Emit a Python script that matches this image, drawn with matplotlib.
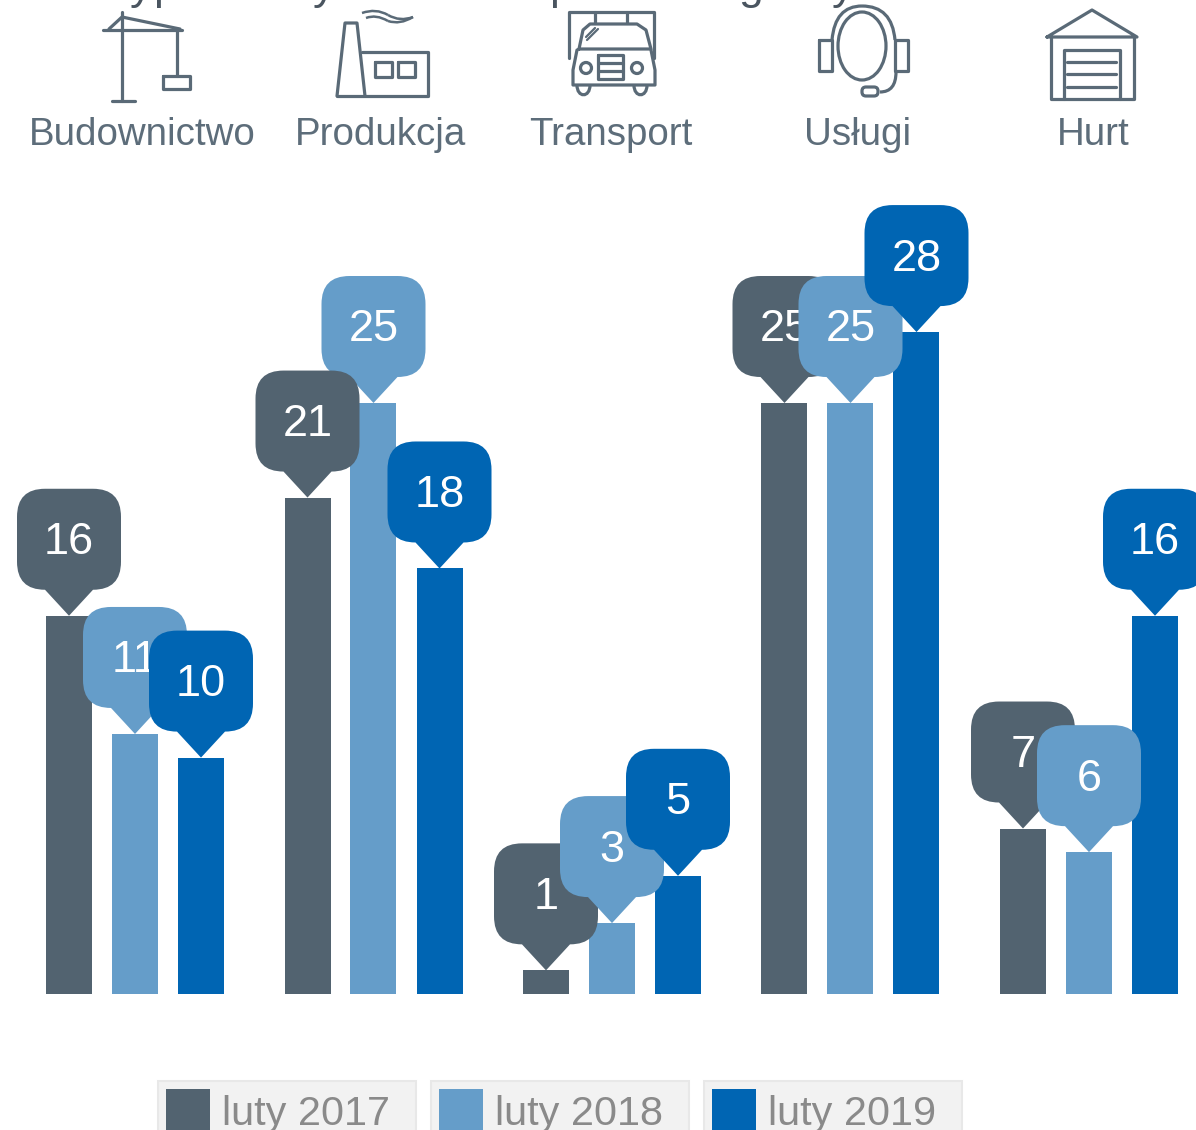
import numpy as np
import matplotlib
matplotlib.use('Agg')
import matplotlib.pyplot as plt
from matplotlib.patches import PathPatch, Rectangle, Circle, Ellipse, FancyBboxPatch
from matplotlib.path import Path
from matplotlib.transforms import Affine2D

# Chart data
categories = ['Budownictwo', 'Produkcja', 'Transport', 'Usługi', 'Hurt']
series_names = ['luty 2017', 'luty 2018', 'luty 2019']
values_2017 = [16, 21, 1, 25, 7]
values_2018 = [11, 25, 3, 25, 6]
values_2019 = [10, 18, 5, 28, 16]

DARK = '#526370'
MID = '#659dc9'
BLUE = '#0065b3'
ICON = '#5a6a77'
LABEL = '#5d6d7a'
colors = [DARK, MID, BLUE]

W, H = 1196, 1130
GROUP_STEP = 238.5   # px between groups
UNIT = 23.64         # px per value unit
BASE_Y = 994         # px of the zero line
FIRST_X = 135        # px of first group centre

plt.rcParams['font.family'] = ['Liberation Sans', 'DejaVu Sans']

fig = plt.figure(figsize=(W / 100, H / 100), dpi=100)

# chart axes, scaled so the data lands where the picture has it
ax = fig.add_axes([0, 0, 1, 1])
ax.set_xlim(-FIRST_X / GROUP_STEP, (W - FIRST_X) / GROUP_STEP)
ax.set_ylim(-(H - BASE_Y) / UNIT, BASE_Y / UNIT)
ax.axis('off')

# overlay in image pixels for the icons and the legend
px = fig.add_axes([0, 0, 1, 1], facecolor='none')
px.set_xlim(0, W)
px.set_ylim(H, 0)
px.axis('off')


def bubble_path():
    """Speech bubble with its tip at (0, 0), in pixels, y up"""
    hw, bot, top, r = 52, 26, 127, 28
    verts = [(0, 0), (hw - r, bot),
             (hw, bot), (hw, bot + r),
             (hw, top - r),
             (hw, top), (hw - r, top),
             (-hw + r, top),
             (-hw, top), (-hw, top - r),
             (-hw, bot + r),
             (-hw, bot), (-hw + r, bot),
             (0, 0)]
    codes = [Path.MOVETO, Path.LINETO,
             Path.CURVE3, Path.CURVE3,
             Path.LINETO,
             Path.CURVE3, Path.CURVE3,
             Path.LINETO,
             Path.CURVE3, Path.CURVE3,
             Path.LINETO,
             Path.CURVE3, Path.CURVE3,
             Path.CLOSEPOLY]
    return Path(verts, codes)


series = [values_2017, values_2018, values_2019]
x_pos = np.arange(len(categories))
offset = 66 / GROUP_STEP
bar_w = 46 / GROUP_STEP

for s, vals in enumerate(series):
    ax.bar(x_pos + (s - 1) * offset, vals, width=bar_w, color=colors[s], zorder=2)

bubble = bubble_path()
z = 3
for g in range(len(categories)):
    # the 21 label sits on top of the 25 one in the source
    order = [1, 0, 2] if categories[g] == 'Produkcja' else [0, 1, 2]
    for s in order:
        v = series[s][g]
        bx = g + (s - 1) * offset
        tip = ax.transData.transform((bx, v))
        tr = Affine2D().translate(*tip)
        ax.add_patch(PathPatch(bubble, facecolor=colors[s], edgecolor='none',
                               transform=tr, zorder=z, clip_on=False))
        ax.annotate(str(v), (bx, v), xytext=(0, 73 * 0.72), textcoords='offset points',
                    ha='center', va='center', color='white', fontsize=32.5, zorder=z + 0.5)
        z += 1

# category labels
label_x = [142, 381, 611, 858, 1093]
for name, lx in zip(categories, label_x):
    px.text(lx, 145, name, ha='center', va='baseline', fontsize=27.7, color=LABEL)

# descenders of the title, cut off by the top edge of the image
for frag, fx in zip(['y', 'p', 'y', 'p', 'g', 'y'], [141, 165, 324, 561, 750, 843]):
    px.text(fx, -1, frag, ha='center', va='baseline', fontsize=32, color='#4a5560')


def line(*pts, lw=2.3):
    xs, ys = zip(*pts)
    px.plot(xs, ys, color=ICON, lw=lw, solid_capstyle='round', solid_joinstyle='round', zorder=5)


def box(x0, y0, x1, y1, lw=2.3):
    line((x0, y0), (x1, y0), (x1, y1), (x0, y1), (x0, y0), lw=lw)


def curve(p0, c, p1, lw=2.3):
    path = Path([p0, c, p1], [Path.MOVETO, Path.CURVE3, Path.CURVE3])
    px.add_patch(PathPatch(path, fill=False, edgecolor=ICON, lw=lw, zorder=5))


def wheel(x0, x1, y0, y1):
    # U shaped tyre under the cab
    path = Path([(x0, y0), (x0, y1), (x1, y1), (x1, y0)],
                [Path.MOVETO, Path.CURVE4, Path.CURVE4, Path.CURVE4])
    px.add_patch(PathPatch(path, fill=False, edgecolor=ICON, lw=2.3, zorder=5))


# crane
line((122, 12), (122, 101))
line((112, 101), (135, 101))
line((103, 29.5), (182, 29.5))
line((109, 29), (122, 17), (180, 29))
line((177, 29), (177, 76))
box(163, 76, 190, 89)

# factory
line((337, 96), (345, 23), (357, 23), (365, 96))
line((337, 96), (428, 96), (428, 52), (362, 52))
box(375, 62, 392, 77)
box(398, 62, 415, 77)
curve((362, 13), (376, 8), (388, 15), lw=1.8)
curve((388, 15), (400, 22), (413, 17), lw=1.8)
curve((366, 18), (376, 14), (388, 21), lw=1.8)
curve((388, 21), (400, 25), (413, 17), lw=1.8)

# truck
line((569, 58), (569, 12), (654, 12), (654, 58))
line((595, 12), (595, 23))
line((627, 12), (627, 23))
line((579, 49), (583, 30), (590, 24), (637, 24), (646, 30), (651, 49), (579, 49))
line((577, 50), (573, 70), (573, 85), (655, 85), (655, 70), (651, 50))
wheel(577, 590, 85, 98)
wheel(634, 647, 85, 98)
px.add_patch(Circle((586, 68), 5.5, fill=False, edgecolor=ICON, lw=2.3, zorder=5))
px.add_patch(Circle((637, 68), 5.5, fill=False, edgecolor=ICON, lw=2.3, zorder=5))
box(598, 55, 623, 79)
line((598, 63), (623, 63))
line((598, 71), (623, 71))
line((586, 37), (595, 28), lw=1.6)
line((587, 40), (598, 29), lw=1.6)

# headset
px.add_patch(Ellipse((862, 46), 48, 68, fill=False, edgecolor=ICON, lw=2.3, zorder=5))
curve((832, 40), (835, 6), (862, 6))
curve((862, 6), (892, 6), (895, 40))
box(819, 40, 832, 71)
box(895, 40, 908, 71)
curve((896, 72), (896, 92), (880, 92))
px.add_patch(FancyBboxPatch((862, 87), 16, 9, boxstyle='round,pad=0,rounding_size=4',
                            fill=False, edgecolor=ICON, lw=2.3, zorder=5))

# warehouse
line((1047, 37), (1092, 10), (1137, 37), (1047, 37))
line((1051, 37), (1051, 99), (1134, 99), (1134, 37))
line((1064, 99), (1064, 50), (1120, 50), (1120, 99))
for sy in [62, 74, 87]:
    line((1067, sy), (1116, sy))

# legend, cut off by the bottom edge like the source
legend_x = [158, 431, 704]
for name, col, lx in zip(series_names, colors, legend_x):
    px.add_patch(Rectangle((lx, 1081), 258, 70, facecolor='#f2f2f2', edgecolor='#e8e8e8', lw=1.5, zorder=4))
    px.add_patch(Rectangle((lx + 8, 1089), 44, 60, facecolor=col, edgecolor='none', zorder=5))
    px.text(lx + 64, 1125, name, ha='left', va='baseline', fontsize=29.8, color='#8a8a8a', zorder=6)

fig.savefig('out.png', dpi=100, facecolor='white')
